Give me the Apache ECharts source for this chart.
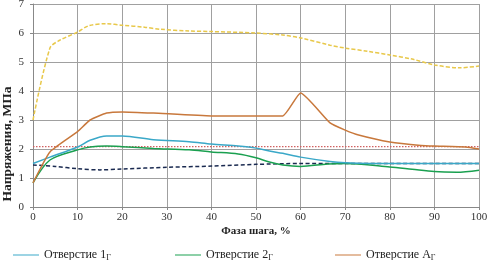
<!DOCTYPE html>
<html><head><meta charset="utf-8">
<script src="https://cdn.jsdelivr.net/npm/echarts@6/dist/echarts.min.js"></script>
<style>html,body{margin:0;padding:0;background:#fff}#c{width:487px;height:260px}</style>
</head><body><div id="c"></div>
<script>
const xTicks = [0,10,20,30,40,50,60,70,80,90,100];
const yTicks = [0,1,2,3,4,5,6,7];

const yellowX = [0,3.8,6,10,12.5,16.5,20,25,28.5,35,40,50,56,60,66.6,70,75,80,85,90,95.7,100];
const yellowY = [3.0,5.48,5.75,6.03,6.25,6.32,6.27,6.2,6.13,6.07,6.05,6.0,5.93,5.83,5.58,5.48,5.37,5.24,5.1,4.9,4.8,4.86];

const orangeX = [0,3.8,10,12.8,16.5,20,27,40,50,56,60,66.6,70,73,80,87,90,97,100];
const orangeY = [0.83,1.9,2.6,3.0,3.24,3.28,3.24,3.14,3.14,3.14,3.93,2.9,2.65,2.48,2.24,2.12,2.1,2.07,2.0];

const blueX = [0,3.8,10,12.8,16.5,20,27,35,40,46,50,53,56,60,66.6,70,80,90,100];
const blueY = [1.5,1.72,2.07,2.3,2.45,2.45,2.32,2.25,2.17,2.1,2.03,1.93,1.85,1.72,1.57,1.53,1.5,1.5,1.5];

const greenX = [0,3.8,10,12.8,16.5,20,27,35,40,46,50,53,56,60,66,70,80,85,90,95,100];
const greenY = [0.83,1.62,1.97,2.07,2.1,2.08,2.02,1.97,1.9,1.83,1.7,1.55,1.45,1.4,1.48,1.5,1.38,1.3,1.22,1.2,1.27];

const navyX = [0,5,10,15,20,30,40,50,60,70,80,90,100];
const navyY = [1.45,1.4,1.32,1.28,1.31,1.37,1.41,1.47,1.5,1.5,1.5,1.5,1.5];

const redX = [0,100];
const redY = [2.08,2.08];

const names = ['Отверстие 1', 'Отверстие 2', 'Отверстие А'];
const yTitle = 'Напряжения, МПа';
const xTitle = 'Фаза шага, %';

function pairs(xs, ys){ return xs.map((x,i)=>[x, ys[i]]); }

const font = '"Liberation Serif", "DejaVu Serif", serif';
const chart = echarts.init(document.getElementById('c'));
const legendRich = {a:{fontFamily:font,fontSize:12,color:'#222'}, s:{fontFamily:font,fontSize:8,color:'#222',verticalAlign:'bottom',padding:[6,0,0,0]}};
function legend(name, left){
  return {data:[name], left:left, top:244, itemWidth:26, itemHeight:8, icon:'path://M0,4L26,4L26,5L0,5Z',
    formatter: n => '{a|'+n+'}{s|Г}', textStyle:{rich:legendRich}};
}
chart.setOption({
  animation:false,
  grid:{left:33, right:8, top:4, bottom:53, outerBoundsMode:'none', containLabel:false},
  legend:[legend(names[0],8), legend(names[1],170), legend(names[2],330)],
  graphic:[{type:'text', x:8, y:144, rotation:Math.PI/2,
    style:{text:yTitle, fontFamily:font, fontWeight:'bold', fontSize:13.5, fill:'#222', align:'center', verticalAlign:'middle'}}],
  xAxis:{type:'value', min:0, max:100, interval:10,
    name:xTitle, nameLocation:'middle', nameGap:19, nameMoveOverlap:false,
    nameTextStyle:{fontFamily:font,fontWeight:'bold',fontSize:11,color:'#222'},
    axisLine:{lineStyle:{color:'#888'}}, axisTick:{show:true,length:3,lineStyle:{color:'#888'}},
    axisLabel:{fontFamily:font,fontSize:11,color:'#333',margin:5, formatter:v=>xTicks.includes(v)?String(v):''},
    splitLine:{show:true,lineStyle:{color:'#a0a0a0',width:1}}},
  yAxis:{type:'value', min:0, max:7, interval:1,
    axisLine:{show:true,lineStyle:{color:'#888'}}, axisTick:{show:true,length:3,lineStyle:{color:'#888'}},
    axisLabel:{fontFamily:font,fontSize:11,color:'#333',margin:9, formatter:v=>yTicks.includes(v)?String(v):''},
    splitLine:{show:true,lineStyle:{color:'#a0a0a0',width:1}}},
  series:[
    {name:'yellow', type:'line', data:pairs(yellowX,yellowY), symbol:'none', smooth:0.3,
      lineStyle:{color:'#e8c84a',width:1.5,type:[4,2]}},
    {name:'red', type:'line', data:pairs(redX,redY), symbol:'none',
      lineStyle:{color:'#d06060',width:1.2,type:[1.5,1.5]}},
    {name:'navy', type:'line', data:pairs(navyX,navyY), symbol:'none', smooth:0.3,
      lineStyle:{color:'#1a2a50',width:1.5,type:[4,2.5]}},
    {name:names[1], type:'line', data:pairs(greenX,greenY), symbol:'none', smooth:0.3,
      lineStyle:{color:'#1aa050',width:1.5}, itemStyle:{color:'#1aa050'}},
    {name:names[0], type:'line', data:pairs(blueX,blueY), symbol:'none', smooth:0.3,
      lineStyle:{color:'#3aa8c8',width:1.5}, itemStyle:{color:'#3aa8c8'}},
    {name:names[2], type:'line', data:pairs(orangeX,orangeY), symbol:'none', smooth:0.15,
      lineStyle:{color:'#c8783c',width:1.5}, itemStyle:{color:'#c8783c'}}
  ]
});
</script></body></html>
